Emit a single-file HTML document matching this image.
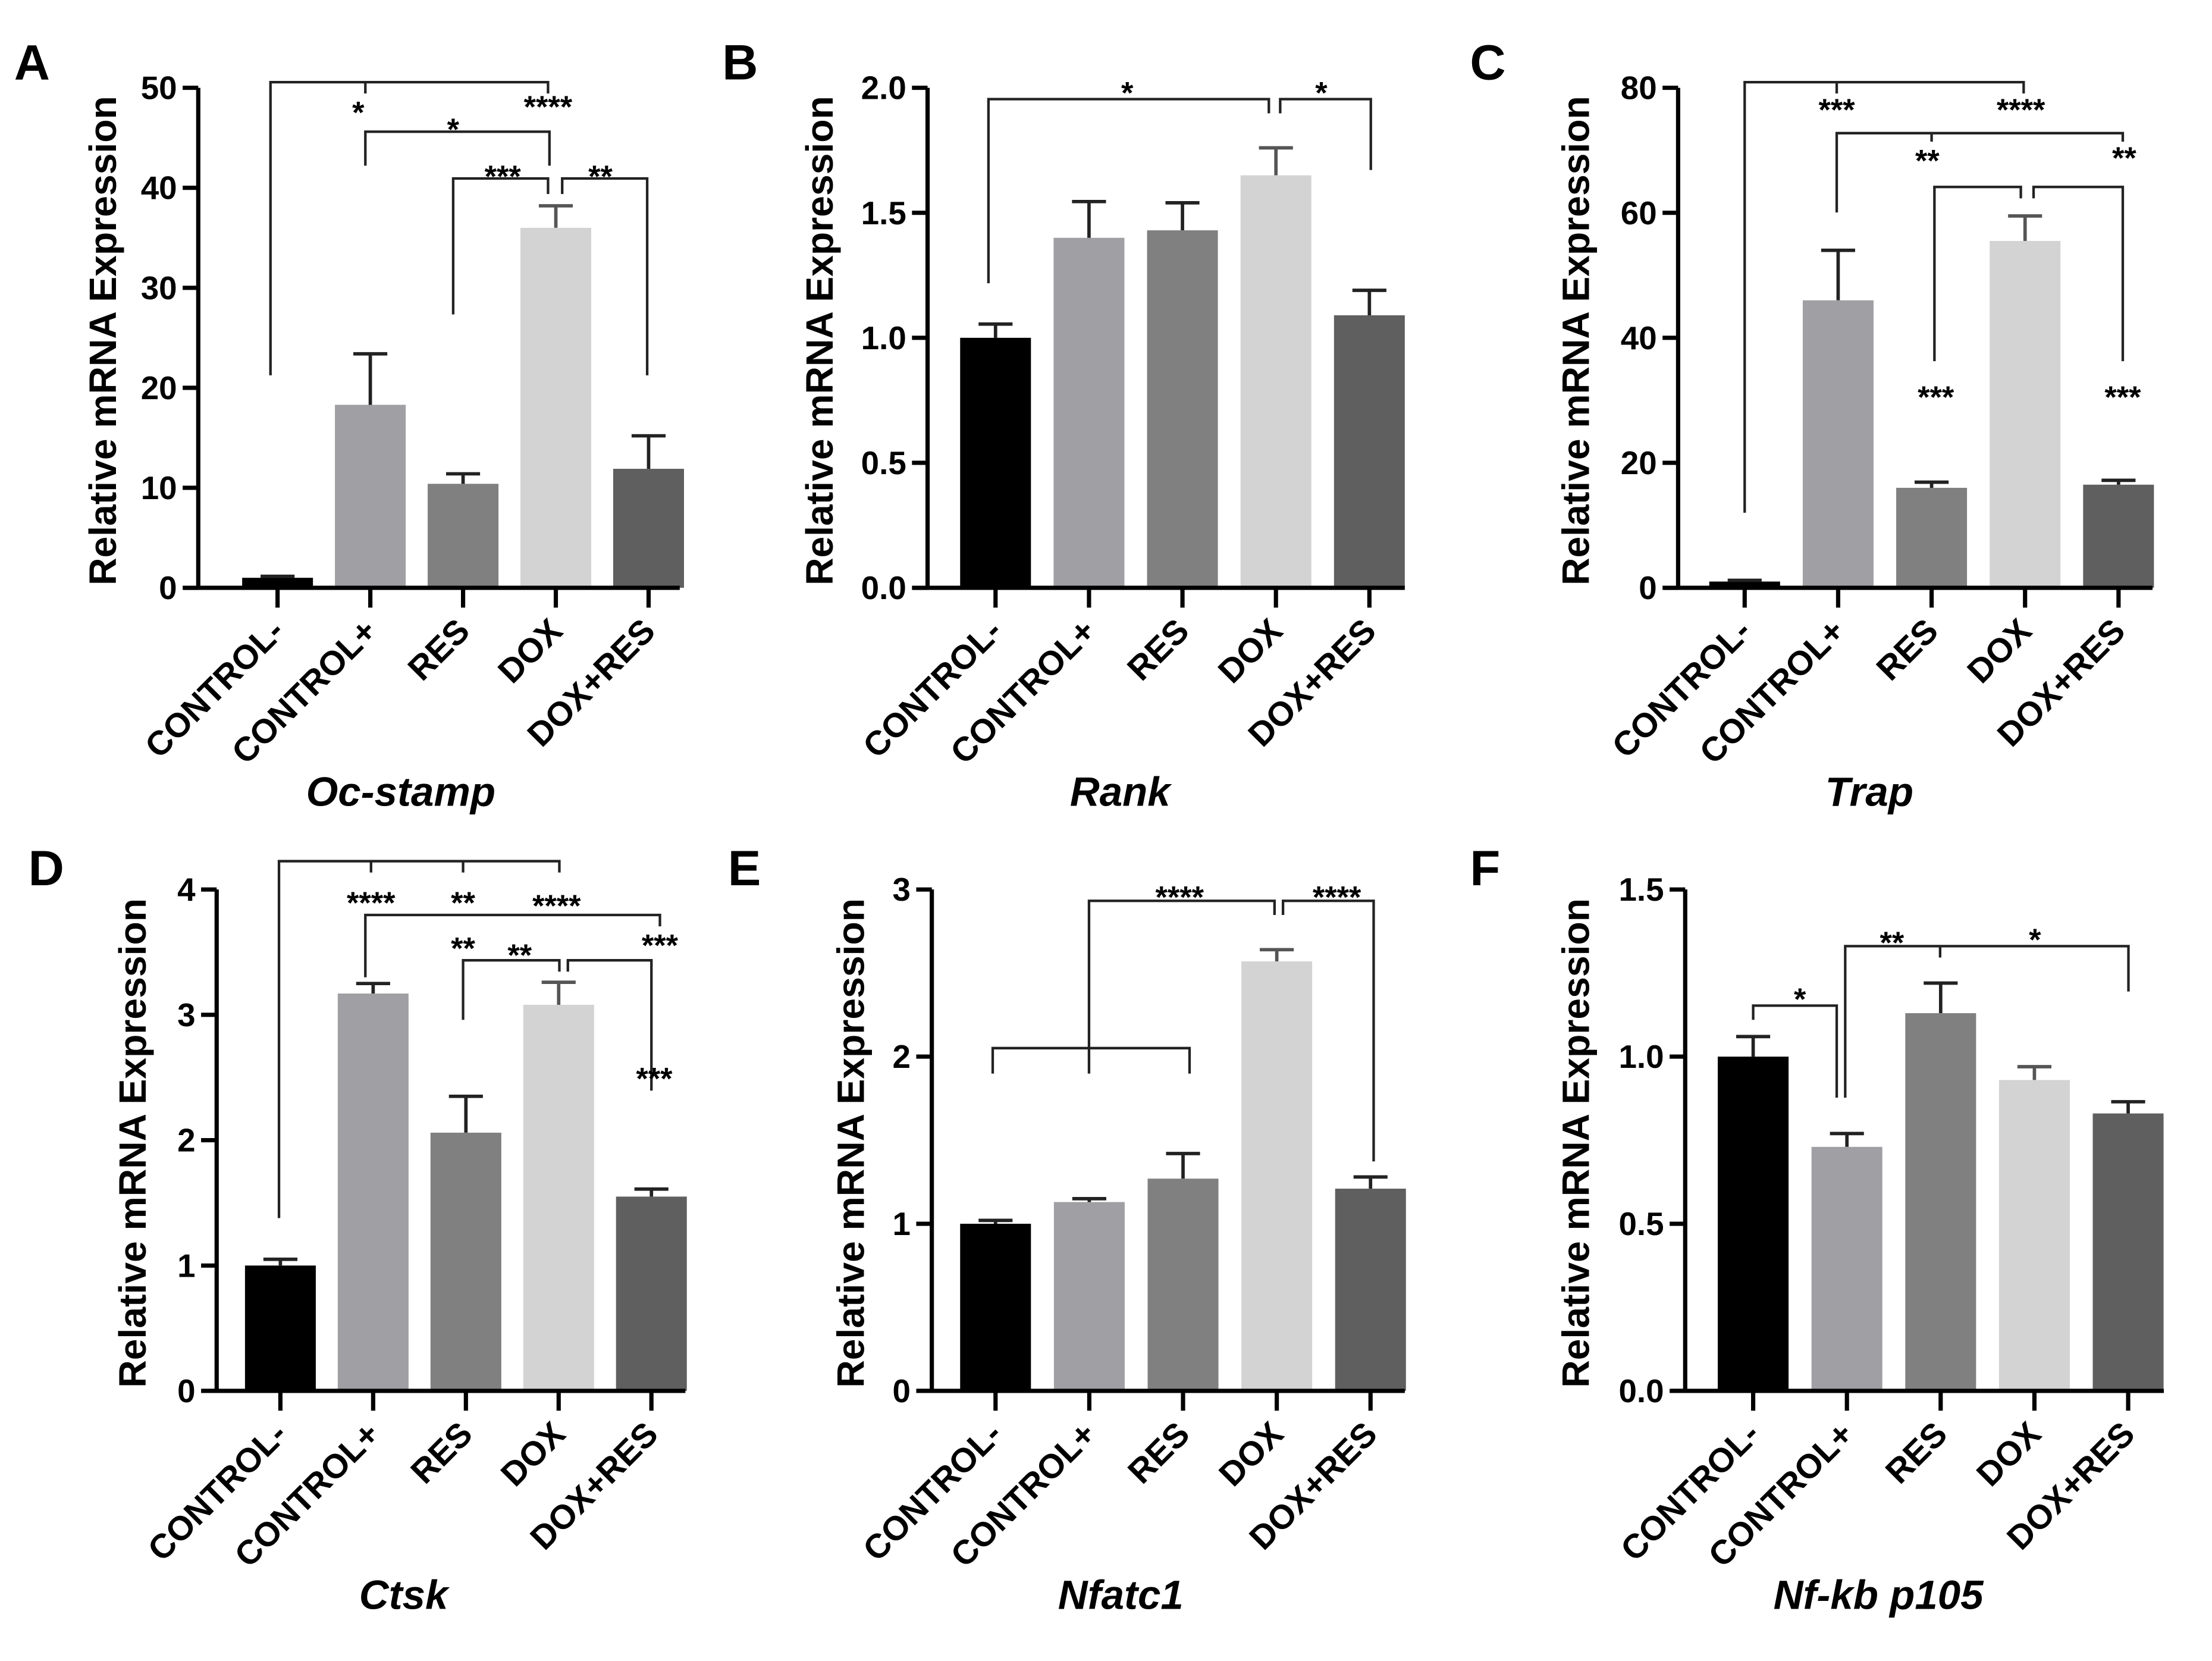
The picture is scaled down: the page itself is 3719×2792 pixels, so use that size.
<!DOCTYPE html>
<html><head><meta charset="utf-8"><style>
html,body{margin:0;padding:0;background:#fff}
svg{display:block}
text{font-family:"Liberation Sans",Arial,sans-serif;font-weight:bold;fill:#000}
</style></head><body>
<svg id="fig" width="3719" height="2792" viewBox="0 0 1562 1172.7" preserveAspectRatio="none" xmlns="http://www.w3.org/2000/svg"></svg>
<script>
const categories = ["CONTROL-","CONTROL+","RES","DOX","DOX+RES"];
const colors = ["#000000","#a0a0a4","#808080","#d3d3d3","#5f5f5f"];
const genes = ["Oc-stamp","Rank","Trap","Ctsk","Nfatc1","Nf-kb p105"];
const letters = ["A","B","C","D","E","F"];
const valsA = [1, 18.3, 10.4, 36, 11.9];
const errA  = [0.15, 5.1, 1.0, 2.2, 3.3];
const valsB = [1.0, 1.40, 1.43, 1.65, 1.09];
const errB  = [0.055, 0.145, 0.11, 0.11, 0.10];
const valsC = [1, 46, 16, 55.5, 16.5];
const errC  = [0.2, 8, 0.9, 4, 0.7];
const valsD = [1, 3.17, 2.06, 3.08, 1.55];
const errD  = [0.05, 0.08, 0.29, 0.18, 0.06];
const valsE = [1, 1.13, 1.27, 2.57, 1.21];
const errE  = [0.02, 0.02, 0.15, 0.07, 0.07];
const valsF = [1, 0.73, 1.13, 0.93, 0.83];
const errF  = [0.06, 0.04, 0.09, 0.04, 0.035];
const ticksA = [0,10,20,30,40,50];
const ticksB = [0,0.5,1,1.5,2];
const ticksC = [0,20,40,60,80];
const ticksD = [0,1,2,3,4];
const ticksE = [0,1,2,3];
const ticksF = [0,0.5,1,1.5];
const tickLabA = ["0","10","20","30","40","50"];
const tickLabB = ["0.0","0.5","1.0","1.5","2.0"];
const tickLabC = ["0","20","40","60","80"];
const tickLabD = ["0","1","2","3","4"];
const tickLabE = ["0","1","2","3"];
const tickLabF = ["0.0","0.5","1.0","1.5"];

const NS="http://www.w3.org/2000/svg";
const svg=document.getElementById('fig');
function mk(tag,attrs,parent){const e=document.createElementNS(NS,tag);for(const k in attrs)e.setAttribute(k,attrs[k]);(parent||svg).appendChild(e);return e;}

const layout=[
 {ax:140,y0:415,yt:62,max:50,b0:196,sp:65.5,right:480,tx:72,vals:valsA,err:errA,ticks:ticksA,tl:tickLabA},
 {ax:655,y0:415,yt:62,max:2,b0:703,sp:66,right:992,tx:578,vals:valsB,err:errB,ticks:ticksB,tl:tickLabB},
 {ax:1185,y0:415,yt:62,max:80,b0:1232,sp:66,right:1520,tx:1112,vals:valsC,err:errC,ticks:ticksC,tl:tickLabC},
 {ax:153,y0:982,yt:628,max:4,b0:198,sp:65.5,right:484,tx:93,vals:valsD,err:errD,ticks:ticksD,tl:tickLabD},
 {ax:658,y0:982,yt:628,max:3,b0:703,sp:66.2,right:992,tx:600,vals:valsE,err:errE,ticks:ticksE,tl:tickLabE},
 {ax:1190,y0:982,yt:628,max:1.5,b0:1238,sp:66.2,right:1528,tx:1112,vals:valsF,err:errF,ticks:ticksF,tl:tickLabF}
];
const letterPos=[[10,56],[510,56],[1038,56],[20,625],[514,625],[1038,625]];

layout.forEach((L,p)=>{
  const g=mk('g',{});
  
  
  const ys=v=>L.y0-(v/L.max)*(L.y0-L.yt);
  const xs=i=>L.b0+i*L.sp;
  const bw=50;
  L.vals.forEach((v,i)=>{
    const r=mk('rect',{x:xs(i)-bw/2,y:ys(v),width:bw,height:L.y0-ys(v),fill:colors[i]},g);
    
    
    const top=ys(v+L.err[i]);
    const e=mk('path',{d:`M${xs(i)},${ys(v)}V${top}M${xs(i)-12},${top}H${xs(i)+12}`,stroke:i==3?'#555':'#222','stroke-width':2.4,fill:'none'},g);
    
    
  });
  const ya=mk('path',{d:`M${L.ax},${L.yt}V${L.y0}`,stroke:'#000','stroke-width':3,fill:'none'},g);
  
  
  const xa=mk('path',{d:`M${L.ax-10},${L.y0}H${L.right}`,stroke:'#000','stroke-width':3,fill:'none'},g);
  
  
  L.ticks.forEach((t,k)=>{
    mk('path',{d:`M${L.ax-11},${ys(t)}H${L.ax}`,stroke:'#000','stroke-width':3},g);
    const tx=mk('text',{x:L.ax-15,y:ys(t)+8,'text-anchor':'end','font-size':23},g);
    tx.textContent=L.tl[k];
    
    
  });
  categories.forEach((c,i)=>{
    mk('path',{d:`M${xs(i)},${L.y0}V${L.y0+14}`,stroke:'#000','stroke-width':3},g);
    const tx=mk('text',{x:0,y:0,'text-anchor':'end','font-size':24,transform:`translate(${xs(i)+6},${L.y0+32}) rotate(-45)`},g);
    tx.textContent=c;
    
    
  });
  const yt=mk('text',{x:0,y:0,'text-anchor':'middle','font-size':27,transform:`translate(${L.tx+10},${(L.yt+L.y0)/2+2}) rotate(-90)`},g);
  yt.textContent='Relative mRNA Expression';
  
  
  const gt=mk('text',{x:xs(2)-44,y:L.y0+154,'text-anchor':'middle','font-size':29,'font-style':'italic'},g);
  gt.textContent=genes[p];
  
  
  const lt=mk('text',{x:letterPos[p][0],y:letterPos[p][1],'font-size':35},g);
  lt.textContent=letters[p];
  
  
});

const brackets=[
 "M191,265V58H387V66M258,58V66","M258,117V93H388V117","M320,222V126H387V137","M397,137V126H457V265",
 "M698,200V70H896V80","M904,80V70H968V120",
 "M1232,362V58H1429V66M1297,58V66","M1297,150V94H1499V100M1364,94V100","M1366,255V132H1427V140","M1436,140V132H1499V255",
 "M197,860V608H395V616M262,608V616M327,608V616","M258,690V646H466V654","M327,720V678H395V686","M401,686V678H460V770",
 "M701,758V740H840V758M769,758V636H900V646","M906,646V636H970V820",
 "M1238,720V710H1297V775","M1303,775V668H1503V700M1370,668V676"
];
const stars=[
 [253,82,"*"],[387,78,"****"],[320,94,"*"],[355,127,"***"],[424,127,"**"],
 [796,68,"*"],[933,68,"*"],
 [1297,80,"***"],[1427,80,"****"],[1361,116,"**"],[1500,114,"**"],[1367,283,"***"],[1499,283,"***"],
 [262,640,"****"],[327,640,"**"],[393,642,"****"],[327,672,"**"],[466,670,"***"],[367,677,"**"],[462,764,"***"],
 [833,636,"****"],[944,636,"****"],
 [1271,708,"*"],[1336,668,"**"],[1437,666,"*"]
];
brackets.forEach(d=>{
  const e=mk('path',{d:d,stroke:'#222','stroke-width':1.8,fill:'none'});
  
  
});
stars.forEach(s=>{
  const t=mk('text',{x:s[0],y:s[1]+5,'text-anchor':'middle','font-size':22,'font-weight':'normal'});
  t.textContent=s[2];
  
  
});
</script>
</body></html>
